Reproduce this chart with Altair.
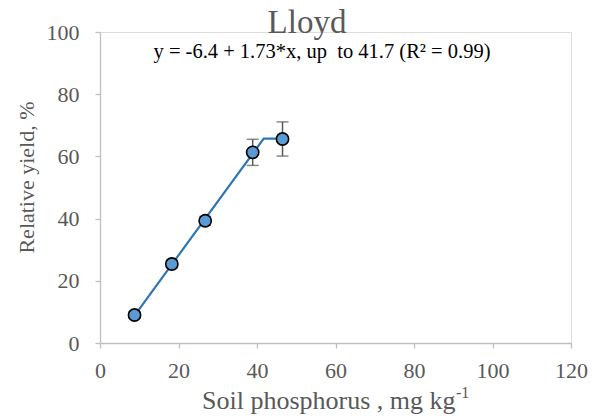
import altair as alt
import pandas as pd

# Data
soil_p = [8.8, 18.3, 26.8, 38.9, 46.5]
rel_yield = [9.0, 25.4, 39.3, 61.3, 65.6]
err = [1.0, 1.2, 1.4, 4.2, 5.5]

# Fitted linear-plateau model (from the equation shown)
intercept = -6.4
slope = 1.73
joint = 41.7
title_text = "Lloyd"
subtitle_text = "y = -6.4 + 1.73*x, up\u00a0 to 41.7 (R\u00b2 = 0.99)"
x_title = "Soil phosphorus , mg kg"
x_title_sup = "-1"
y_title = "Relative yield, %"

pts = pd.DataFrame({"x": soil_p, "y": rel_yield,
                    "lo": [v - e for v, e in zip(rel_yield, err)],
                    "hi": [v + e for v, e in zip(rel_yield, err)]})

fit_x = [min(soil_p), joint, max(soil_p)]
fit_y = [intercept + slope * min(xx, joint) for xx in fit_x]
fit = pd.DataFrame({"x": fit_x, "y": fit_y})

FONT = "Liberation Serif"
GREY = "#595959"
AX = "#bfbfbf"

xscale = alt.Scale(domain=[0, 120], nice=False, zero=True)
yscale = alt.Scale(domain=[0, 100], nice=False)

xaxis = alt.Axis(values=list(range(0, 121, 10)),
                 labelExpr="datum.value % 20 == 0 ? datum.label : ''",
                 grid=False, domainColor=AX, tickColor=AX, tickSize=5,
                 domainWidth=1.3, tickWidth=1.3, labelFlush=False,
                 labelFont=FONT, labelFontSize=22, labelColor=GREY, labelPadding=12,
                 title=x_title, titleFont=FONT, titleFontSize=26, titleColor=GREY,
                 titleFontWeight="normal", titleX=355, titleY=65,
                 titleBaseline="alphabetic", titleAlign="right")
yaxis = alt.Axis(values=list(range(0, 101, 10)),
                 labelExpr="datum.value % 20 == 0 ? datum.label : ''",
                 grid=False, domainColor=AX, tickColor=AX, tickSize=5,
                 domainWidth=1.3, tickWidth=1.3, labelFlush=False,
                 labelFont=FONT, labelFontSize=22, labelColor=GREY, labelPadding=16,
                 title=y_title, titleFont=FONT, titleFontSize=22, titleColor=GREY,
                 titleFontWeight="normal", titleX=-67, titleY=145, titleAngle=270,
                 titleBaseline="alphabetic", titleAlign="center")

base = alt.Chart(pts)

line = alt.Chart(fit).mark_line(color="#2E75B6", strokeWidth=2.2).encode(
    x=alt.X("x:Q", scale=xscale, axis=xaxis),
    y=alt.Y("y:Q", scale=yscale, axis=yaxis),
)

rules = base.mark_rule(color=GREY, strokeWidth=1.5).encode(
    x="x:Q", y="lo:Q", y2="hi:Q")
cap_lo = base.mark_tick(color=GREY, thickness=1.5, size=12, orient="horizontal").encode(
    x="x:Q", y="lo:Q")
cap_hi = base.mark_tick(color=GREY, thickness=1.5, size=12, orient="horizontal").encode(
    x="x:Q", y="hi:Q")

points = base.mark_point(filled=True, fill="#5B9BD5", stroke="black", strokeWidth=1.6,
                         size=150, opacity=1, shape="circle").encode(
    x="x:Q", y="y:Q")

ttl = alt.Chart(pd.DataFrame({"t": [title_text]})).mark_text(
    font=FONT, fontSize=33, color=GREY, align="center", baseline="alphabetic"
).encode(text="t:N", x=alt.value(207), y=alt.value(1))

sub = alt.Chart(pd.DataFrame({"t": [subtitle_text]})).mark_text(
    font=FONT, fontSize=20.5, color="black", align="center", baseline="alphabetic"
).encode(text="t:N", x=alt.value(222), y=alt.value(26))

sup = alt.Chart(pd.DataFrame({"t": [x_title_sup]})).mark_text(
    font=FONT, fontSize=16, color=GREY, align="left", baseline="alphabetic"
).encode(text="t:N", x=alt.value(356), y=alt.value(366))

chart = alt.layer(line, rules, cap_lo, cap_hi, points, ttl, sub, sup).properties(
    width=471, height=311,
    autosize=alt.AutoSizeParams(type="none"),
    padding={"left": 100, "top": 32, "right": 24, "bottom": 77},
).configure_view(stroke=None).configure(background="white")

chart.save("out.html", embed_options={"renderer": "svg", "actions": False})
